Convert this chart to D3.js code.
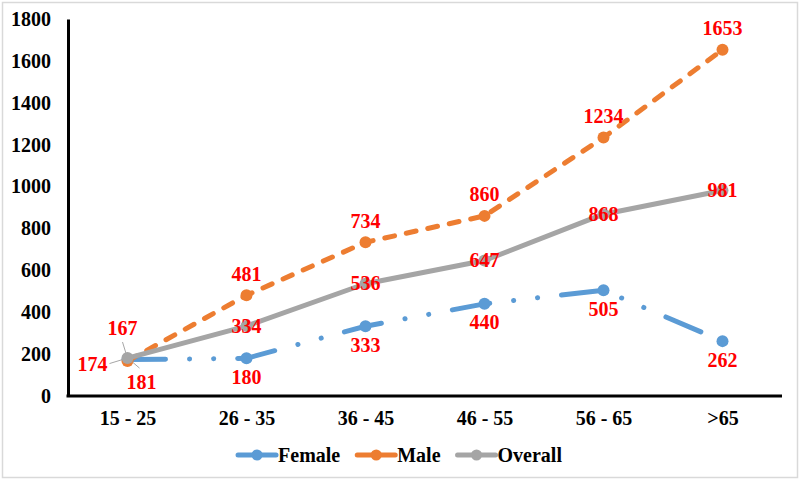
<!DOCTYPE html>
<html>
<head>
<meta charset="utf-8">
<script src="https://cdn.jsdelivr.net/npm/d3@7"></script>
<style>
  html, body { margin: 0; padding: 0; background: #fff; }
  svg { display: block; }
  text { font-family: "Liberation Serif", "Times New Roman", serif; font-weight: bold; }
</style>
</head>
<body>
<svg id="chart" width="800" height="480"></svg>
<script>
const categories = ["15 - 25", "26 - 35", "36 - 45", "46 - 55", "56 - 65", ">65"];
const female = [174, 180, 333, 440, 505, 262];
const male = [167, 481, 734, 860, 1234, 1653];
const overall = [181, 334, 536, 647, 868, 981];
const yTicks = [0, 200, 400, 600, 800, 1000, 1200, 1400, 1600, 1800];
const seriesNames = ["Female", "Male", "Overall"];

const colors = { Female: "#5B9BD5", Male: "#ED7D31", Overall: "#A5A5A5" };
const dashes = { Female: "38,24,0.1,24,0.1,24", Male: "10,12", Overall: null };
// label placement style: offset relative to point (applied to text center)
const labelStyle = { Female: { dx: 0, dy: 19 }, Male: { dx: 0, dy: -21 }, Overall: { dx: 0, dy: 0 } };
// first category labels were moved off the crowded point, with leader lines
const firstLabelStyle = {
  Female: { dx: -35, dy: 5, l: [[-18, 4], [-5, 0]] },
  Male: { dx: -5, dy: -33, l: [[-5, -19], [-1, -6]] },
  Overall: { dx: 14, dy: 24, l: [[5, 4], [12, 10]] }
};

const svg = d3.select("#chart");
const W = 800, H = 480;

// outer border
svg.append("rect").attr("x", 2.5).attr("y", 2.5).attr("width", W - 5).attr("height", H - 5)
  .attr("fill", "#fff").attr("stroke", "#d9d9d9").attr("stroke-width", 1.5);

const plotLeft = 68, plotRight = 782, plotTop = 19, plotBottom = 396;
const x = d3.scalePoint().domain(categories).range([plotLeft, plotRight]).padding(0.5);
const y = d3.scaleLinear().domain([0, 1800]).range([plotBottom, plotTop]);

// Y axis
const yAxis = svg.append("g").attr("transform", `translate(${plotLeft},0)`)
  .call(d3.axisLeft(y).tickValues(yTicks).tickSize(0).tickPadding(17).tickFormat(d3.format("d")));
yAxis.select(".domain").attr("stroke", "#000").attr("stroke-width", 3);
yAxis.selectAll("text").attr("font-size", 20).attr("fill", "#000")
  .style("font-family", '"Liberation Serif", serif').style("font-weight", "bold");

// X axis
const xAxis = svg.append("g").attr("transform", `translate(0,${plotBottom})`)
  .call(d3.axisBottom(x).tickSize(0).tickPadding(15));
xAxis.select(".domain").attr("stroke", "#000").attr("stroke-width", 3)
  .attr("d", `M${plotLeft - 1.5},0H${plotRight}`);
xAxis.selectAll("text").attr("font-size", 20).attr("fill", "#000")
  .style("font-family", '"Liberation Serif", serif').style("font-weight", "bold");

const data = { Female: female, Male: male, Overall: overall };
const line = d3.line().x((d, i) => x(categories[i])).y(d => y(d));

seriesNames.forEach(name => {
  const vals = data[name];
  const g = svg.append("g");
  g.append("path").datum(vals).attr("d", line)
    .attr("fill", "none").attr("stroke", colors[name]).attr("stroke-width", 5)
    .attr("stroke-linecap", "round").attr("stroke-linejoin", "round")
    .attr("stroke-dasharray", dashes[name]);
  g.selectAll("circle").data(vals).join("circle")
    .attr("cx", (d, i) => x(categories[i])).attr("cy", d => y(d)).attr("r", 6)
    .attr("fill", colors[name]);
});

// data labels
const labels = svg.append("g");
seriesNames.forEach(name => {
  const vals = data[name];
  vals.forEach((v, i) => {
    const px = x(categories[i]), py = y(v);
    let st = labelStyle[name];
    if (i === 0) {
      st = firstLabelStyle[name];
      labels.append("line")
        .attr("x1", px + st.l[0][0]).attr("y1", py + st.l[0][1])
        .attr("x2", px + st.l[1][0]).attr("y2", py + st.l[1][1])
        .attr("stroke", "#a6a6a6").attr("stroke-width", 1);
    }
    labels.append("text")
      .attr("x", px + st.dx).attr("y", py + st.dy).attr("dy", "0.33em")
      .attr("text-anchor", "middle").attr("font-size", 20).attr("fill", "#FF0000")
      .text(v);
  });
});

// legend
const legend = svg.append("g");
const items = [];
seriesNames.forEach(name => {
  const it = legend.append("g");
  it.append("line").attr("x1", 0).attr("x2", 38).attr("y1", 0).attr("y2", 0)
    .attr("stroke", colors[name]).attr("stroke-width", 5).attr("stroke-linecap", "round");
  it.append("circle").attr("cx", 19).attr("cy", 0).attr("r", 5.5).attr("fill", colors[name]);
  const t = it.append("text").attr("x", 40).attr("y", 0).attr("dy", "0.33em")
    .attr("font-size", 20).attr("fill", "#000").text(name);
  items.push({ g: it, w: 40 + t.node().getComputedTextLength() });
});
const gap = 17;
const total = d3.sum(items, d => d.w) + gap * (items.length - 1);
let cx = 400 - total / 2;
items.forEach(d => { d.g.attr("transform", `translate(${cx},455)`); cx += d.w + gap; });
</script>
</body>
</html>
